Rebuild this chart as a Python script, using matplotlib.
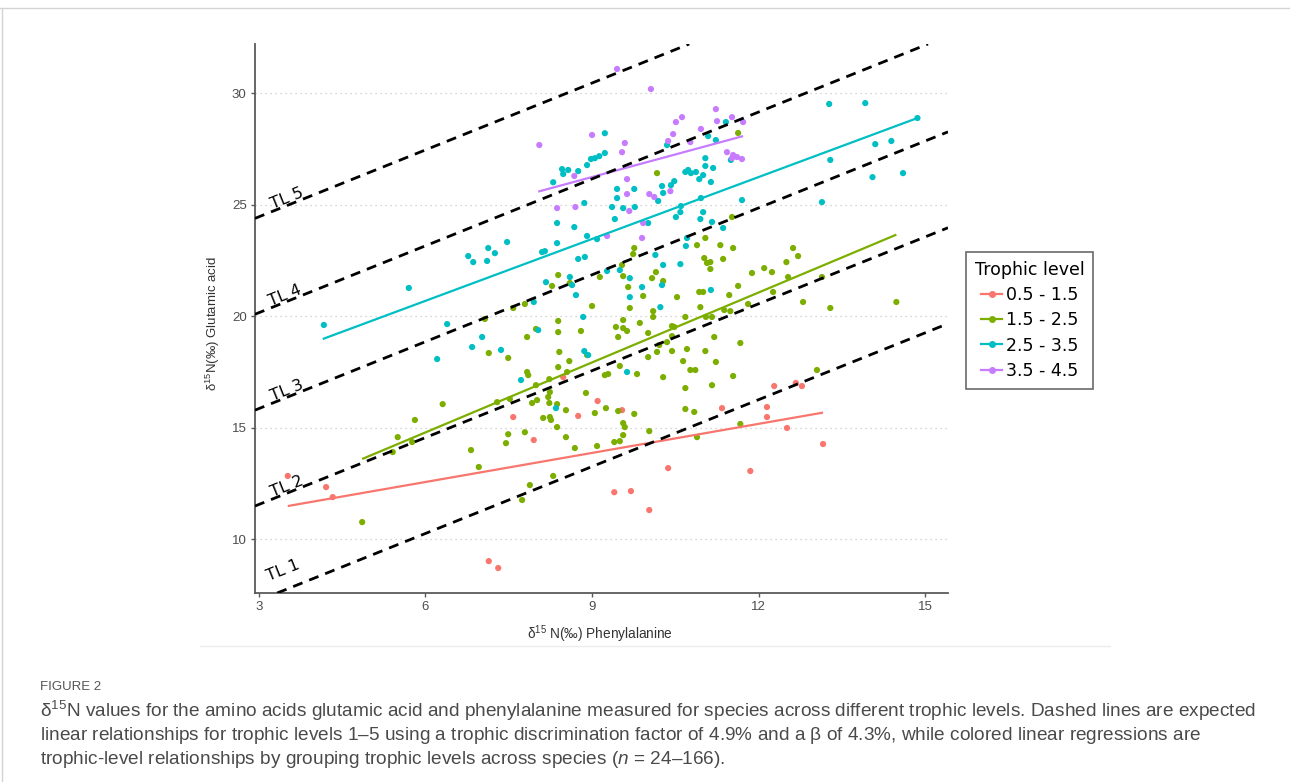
import matplotlib
matplotlib.use("Agg")
import matplotlib.pyplot as plt
from matplotlib.lines import Line2D

plt.rcParams['font.family'] = ['Liberation Sans', 'DejaVu Sans']
plt.rcParams['mathtext.fontset'] = 'custom'
plt.rcParams['mathtext.rm'] = 'Liberation Sans'
plt.rcParams['mathtext.it'] = 'Liberation Sans:italic'

# --- data ---
groups = ['0.5 - 1.5', '1.5 - 2.5', '2.5 - 3.5', '3.5 - 4.5']
colors = ['#F8766D', '#7CAE00', '#00BFC4', '#C77CFF']

red_x = [3.52, 4.21, 4.33, 7.14, 7.31, 7.58, 7.95, 8.48, 8.75, 9.10, 9.40, 9.54,
         9.70, 10.03, 10.37, 11.34, 11.85, 12.15, 12.15, 12.28, 12.51, 12.67, 12.78, 13.16]
red_y = [12.83, 12.33, 11.88, 9.01, 8.70, 15.47, 14.44, 17.26, 15.52, 16.19, 12.10, 15.78,
         12.15, 11.30, 13.18, 15.87, 13.05, 15.92, 15.47, 16.86, 14.98, 17.00, 16.86, 14.26]

green_x = [4.86, 5.41, 5.50, 5.76, 5.81, 6.31, 6.82, 6.96, 7.14, 7.49, 7.29, 7.49, 7.45, 7.79,
           7.83, 7.83, 7.85, 7.88, 7.74, 7.92, 8.01, 8.12, 8.21, 8.24, 8.23, 8.24, 8.26, 8.37,
           8.37, 8.39, 8.41, 8.39, 8.53, 8.53, 8.59, 8.55, 8.69, 8.30, 8.80, 8.89, 9.05, 9.09,
           8.91, 8.23, 9.23, 9.29, 7.99, 7.52, 9.25, 9.47, 9.40, 9.50, 10.64, 11.23, 9.81, 10.28,
           10.77, 10.86, 11.54, 10.68, 11.16, 10.68, 10.84, 9.76, 9.56, 9.59, 9.56, 10.03, 10.89,
           11.67, 11.67, 11.20, 11.04, 10.71, 10.44, 10.44, 10.21, 10.17, 10.35, 10.01, 10.01,
           9.50, 13.05, 11.63, 10.17, 11.52, 9.76, 9.74, 9.54, 9.56, 9.14, 9.65, 10.08, 10.15,
           10.28, 9.92, 10.10, 10.10, 9.86, 9.68, 9.43, 9.56, 10.89, 11.04, 11.31, 11.54, 11.02,
           11.07, 11.13, 11.13, 11.36, 10.53, 10.93, 11.00, 10.95, 11.05, 11.16, 11.38, 11.49,
           11.47, 11.63, 11.81, 11.88, 12.10, 12.24, 12.50, 12.62, 12.71, 12.53, 12.26, 12.80,
           13.14, 13.29, 14.48, 10.68, 9.56, 9.63, 10.44, 10.48, 8.39, 8.60, 8.28, 7.79, 7.58,
           7.07, 9.00, 8.39, 7.99, 9.47]
green_y = [10.76, 13.90, 14.57, 14.35, 15.34, 16.05, 13.99, 13.23, 18.34, 18.12, 16.14, 14.70,
           14.30, 14.79, 19.06, 17.49, 17.35, 12.42, 11.75, 16.10, 16.23, 15.43, 16.37, 16.59,
           16.10, 15.47, 15.34, 15.02, 16.05, 17.71, 18.39, 19.28, 14.57, 15.78, 17.98, 17.49,
           14.08, 12.83, 19.33, 16.55, 15.65, 14.17, 18.25, 17.17, 17.35, 17.40, 16.90, 16.28,
           15.87, 15.74, 14.35, 14.39, 17.98, 17.94, 17.40, 17.26, 17.58, 17.58, 17.31, 16.77,
           16.90, 15.83, 15.70, 15.61, 15.20, 15.02, 14.66, 14.84, 14.57, 15.16, 18.79, 19.06,
           18.43, 18.52, 19.10, 18.43, 18.70, 18.39, 18.83, 19.24, 18.16, 17.76, 17.58, 28.21,
           26.41, 24.44, 23.05, 22.78, 22.29, 21.79, 21.75, 21.30, 21.70, 21.97, 21.57, 20.90,
           20.22, 19.96, 19.69, 20.36, 19.51, 19.82, 23.18, 23.50, 23.18, 23.05, 22.60, 22.38,
           22.42, 22.11, 22.56, 20.85, 21.08, 21.08, 20.40, 19.96, 19.96, 20.27, 20.22, 20.94,
           21.35, 20.54, 21.93, 22.15, 21.97, 22.42, 23.05, 22.69, 21.75, 21.08, 20.63, 21.75,
           20.36, 20.63, 19.96, 19.46, 19.33, 19.55, 19.51, 21.84, 21.48, 21.35, 20.54, 20.36,
           19.87, 20.45, 19.78, 19.42, 19.06]

cyan_x = [4.17, 5.70, 6.77, 6.86, 7.11, 7.13, 7.25, 7.47, 6.39, 7.95, 8.10, 8.15, 8.17, 8.37,
          8.37, 8.60, 8.64, 8.71, 8.68, 8.75, 8.87, 8.84, 8.91, 8.86, 8.30, 8.46, 8.48, 8.57,
          8.75, 8.91, 8.98, 9.05, 9.13, 9.23, 9.23, 9.45, 9.45, 9.36, 11.41, 11.09, 11.23, 10.35,
          11.04, 11.04, 11.18, 10.68, 10.73, 10.78, 10.87, 11.00, 10.93, 11.14, 10.48, 10.42,
          10.26, 10.28, 9.76, 10.19, 9.56, 9.77, 10.60, 10.96, 11.70, 11.50, 13.27, 13.92, 14.86,
          14.10, 14.39, 13.29, 14.05, 14.60, 13.14, 9.41, 10.01, 10.59, 10.51, 11.00, 10.95,
          11.16, 11.36, 10.71, 10.69, 10.14, 10.28, 10.59, 10.26, 9.90, 9.68, 9.68, 9.50, 9.27,
          10.23, 11.14, 9.09, 7.02, 6.84, 7.36, 8.03, 8.86, 8.93, 7.72, 8.35, 6.21, 9.63]
cyan_y = [19.60, 21.26, 22.69, 22.42, 22.47, 23.05, 22.82, 23.32, 19.64, 20.63, 22.87, 22.91,
          21.52, 23.27, 24.17, 21.75, 21.39, 20.94, 23.99, 22.56, 22.65, 19.96, 23.59, 25.07,
          26.00, 26.59, 26.37, 26.55, 26.50, 26.77, 27.04, 27.08, 27.17, 27.31, 28.20, 25.70,
          25.29, 24.89, 28.70, 28.07, 27.89, 27.67, 27.08, 26.73, 26.64, 26.46, 26.55, 26.41,
          26.46, 26.32, 26.14, 26.01, 26.05, 25.87, 25.83, 25.52, 25.70, 25.16, 24.84, 24.89,
          24.93, 25.29, 25.20, 27.00, 29.51, 29.55, 28.88, 27.71, 27.85, 27.00, 26.23, 26.41,
          25.11, 24.35, 24.17, 24.66, 24.44, 24.66, 24.35, 24.22, 23.95, 23.50, 23.14, 22.74,
          22.29, 22.33, 21.39, 21.30, 21.70, 20.85, 22.06, 22.02, 20.40, 21.17, 23.45, 19.06,
          18.61, 18.48, 19.37, 18.43, 18.25, 17.13, 15.87, 18.07, 17.49]

purple_x = [9.45, 8.05, 9.00, 8.68, 8.37, 8.70, 10.06, 11.23, 11.52, 10.62, 10.51, 11.25, 11.72,
            10.96, 10.46, 10.37, 10.77, 9.59, 9.54, 11.43, 11.54, 11.61, 11.70, 11.52, 9.63,
            9.63, 10.03, 10.12, 10.41, 9.67, 9.92, 9.90, 9.27]
purple_y = [31.08, 27.67, 28.12, 26.28, 24.84, 24.89, 30.18, 29.28, 28.92, 28.92, 28.70, 28.74,
            28.70, 28.39, 28.16, 27.85, 27.80, 27.76, 27.35, 27.35, 27.22, 27.13, 27.04, 27.08,
            26.14, 25.47, 25.47, 25.34, 25.60, 24.71, 24.17, 23.50, 23.59]

# regression line end points (phe, glu) per group
fit_x = [[3.52, 13.16], [4.86, 14.48], [4.15, 14.86], [8.03, 11.72]]
fit_y = [[11.48, 15.67], [13.59, 23.65], [18.97, 28.88], [25.58, 28.07]]

# expected trophic-level lines: glu = phe + intercept
tl_names = ['TL 1', 'TL 2', 'TL 3', 'TL 4', 'TL 5']
tl_intercepts = [4.25, 8.55, 12.85, 17.15, 21.45]

xticks = [3, 6, 9, 12, 15]
yticks = [10, 15, 20, 25, 30]

# --- figure ---
fig = plt.figure(figsize=(12.9, 7.82), dpi=100)
W, H = 1290, 782
ax = fig.add_axes([255 / W, 1 - 593 / H, (948 - 255) / W, (593 - 44) / H])

ax.set_xlim(2.93, 15.41)
ax.set_ylim(7.58, 32.2)
ax.set_xticks(xticks)
ax.set_yticks(yticks)

for s in ['top', 'right']:
    ax.spines[s].set_visible(False)
for s in ['left', 'bottom']:
    ax.spines[s].set_color('#5a5a5a')
    ax.spines[s].set_linewidth(1.3)

ax.tick_params(axis='both', length=3, width=1, color='#5a5a5a',
               labelsize=9.5, labelcolor='#4d4d4d', pad=3)
ax.yaxis.grid(True, linestyle=(0, (1, 3)), color='#c8c8c8', linewidth=0.9)
ax.set_axisbelow(True)

xs = [red_x, green_x, cyan_x, purple_x]
ys = [red_y, green_y, cyan_y, purple_y]
for gx, gy, c in zip(xs, ys, colors):
    ax.scatter(gx, gy, s=20, color=c, edgecolors='none', zorder=2)

for fx, fy, c in zip(fit_x, fit_y, colors):
    ax.plot(fx, fy, color=c, lw=1.6, zorder=3, solid_capstyle='butt')

label_offsets = [0.9, 0.3, 0.3, 0.3, 0.3]
label_xs = [3.43, 3.5, 3.5, 3.47, 3.5]
for name, b, off, lx in zip(tl_names, tl_intercepts, label_offsets, label_xs):
    ax.axline((0, b), slope=1, color='black', lw=2.0, linestyle=(0, (3.6, 2.6)), zorder=4)
    ax.text(lx, lx + b + off, name, family='DejaVu Sans', fontsize=11.5,
            rotation=45, transform_rotates_text=True, rotation_mode='anchor',
            ha='center', va='center', zorder=5, color='black')

ax.set_ylabel(r'$\mathregular{\delta^{15}}$N(‰) Glutamic acid', fontsize=9.5, color='#333333')
ax.yaxis.set_label_coords(-0.047, 0.49)
ax.set_xlabel(r'$\mathregular{\delta^{15}}$ N(‰) Phenylalanine', fontsize=9.8, color='#333333')
ax.xaxis.set_label_coords(0.498, -0.055)

handles = [Line2D([0], [0], color=c, lw=1.6, marker='o', markersize=4) for c in colors]
leg = ax.legend(handles, groups, title='Trophic level', loc='upper left',
                bbox_to_anchor=(966 / W, 1 - 252 / H), bbox_transform=fig.transFigure,
                borderaxespad=0, fancybox=False, frameon=True,
                prop={'family': 'DejaVu Sans', 'size': 12.5},
                title_fontproperties={'family': 'DejaVu Sans', 'size': 12.5},
                handlelength=1.25, handletextpad=0.2, labelspacing=0.42,
                borderpad=0.5)
leg.get_frame().set_edgecolor('#444444')
leg.get_frame().set_linewidth(1.2)

# page decoration: card border and separator
fig.add_artist(Line2D([0, 1], [1 - 8 / H, 1 - 8 / H], transform=fig.transFigure,
                      color='#d4d4d4', lw=1))
fig.add_artist(Line2D([2 / W, 2 / W], [0, 1 - 8 / H], transform=fig.transFigure,
                      color='#d4d4d4', lw=1))
fig.add_artist(Line2D([200 / W, 1110 / W], [1 - 646 / H, 1 - 646 / H], transform=fig.transFigure,
                      color='#ececec', lw=1))

cap_font = ['Liberation Sans Narrow', 'Liberation Sans', 'DejaVu Sans']
fig.text(40 / W, 1 - 687 / H, 'FIGURE 2', family=cap_font, fontsize=9.5,
         color='#555555', va='center', ha='left')
cap_lines = [
    r'$\mathregular{\delta^{15}}$N values for the amino acids glutamic acid and phenylalanine measured '
    r'for species across different trophic levels. Dashed lines are expected',
    r'linear relationships for trophic levels 1–5 using a trophic discrimination factor of 4.9% and a '
    r'$\mathregular{\beta}$ of 4.3%, while colored linear regressions are',
    r'trophic-level relationships by grouping trophic levels across species ($\mathit{n}$ = 24–166).',
]
for i, line in enumerate(cap_lines):
    fig.text(40 / W, 1 - (711 + 24.5 * i) / H, line, family=cap_font, fontsize=13.7,
             color='#4a4a4a', va='center', ha='left')

fig.savefig('out.png', dpi=100, facecolor='white')
